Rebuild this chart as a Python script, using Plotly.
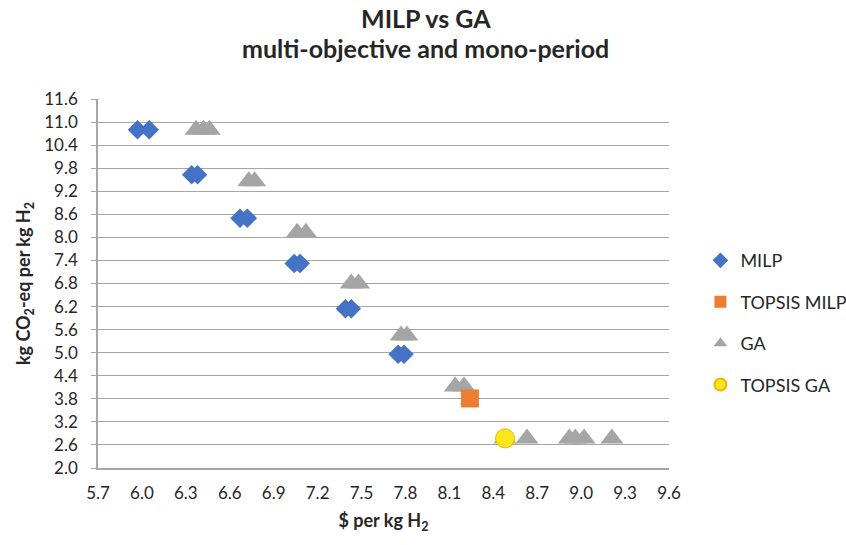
import plotly.graph_objects as go

# Data
milp_x = [5.97, 6.05, 6.34, 6.38, 6.67, 6.72, 7.04, 7.08, 7.39, 7.43, 7.75, 7.79]
milp_y = [10.80, 10.80, 9.63, 9.63, 8.50, 8.50, 7.32, 7.32, 6.14, 6.14, 4.96, 4.96]

topsis_milp_x = [8.24]
topsis_milp_y = [3.81]

ga_x = [6.37, 6.42, 6.46, 6.73, 6.77, 7.06, 7.12, 7.43, 7.48, 7.77, 7.81,
        8.14, 8.20, 8.48, 8.63, 8.92, 8.96, 9.02, 9.21]
ga_y = [10.80, 10.80, 10.80, 9.46, 9.46, 8.12, 8.12, 6.80, 6.80, 5.45, 5.45,
        4.12, 4.12, 2.77, 2.77, 2.77, 2.77, 2.77, 2.77]

topsis_ga_x = [8.48]
topsis_ga_y = [2.77]

x_ticks = [5.7, 6.0, 6.3, 6.6, 6.9, 7.2, 7.5, 7.8, 8.1, 8.4, 8.7, 9.0, 9.3, 9.6]
y_ticks = [2.0, 2.6, 3.2, 3.8, 4.4, 5.0, 5.6, 6.2, 6.8, 7.4, 8.0, 8.6, 9.2, 9.8, 10.4, 11.0, 11.6]

title_lines = ["MILP vs GA", "multi-objective and mono-period"]

FONT = "Lato, 'Open Sans', sans-serif"
TXT = "#262626"
GRID = "#A6A6A6"

fig = go.Figure()
fig.add_trace(go.Scatter(
    x=ga_x, y=ga_y, mode="markers", name="GA", legendrank=3, legendgroup="c",
    marker=dict(symbol="triangle-up", size=20, color="#A5A5A5", line=dict(width=0))))
fig.add_trace(go.Scatter(
    x=milp_x, y=milp_y, mode="markers", name="MILP", legendrank=1, legendgroup="a",
    marker=dict(symbol="diamond", size=15, color="#4472C4", line=dict(width=0))))
fig.add_trace(go.Scatter(
    x=topsis_milp_x, y=topsis_milp_y, mode="markers", name="TOPSIS MILP", legendrank=2,
    legendgroup="b",
    marker=dict(symbol="square", size=18, color="#ED7D31", line=dict(width=0))))
fig.add_trace(go.Scatter(
    x=topsis_ga_x, y=topsis_ga_y, mode="markers", name="TOPSIS GA", legendrank=4,
    legendgroup="d",
    marker=dict(symbol="circle", size=19, color="#F8E71C", line=dict(width=1, color="#F5B400"))))

# Two-line title as annotations (positions in plot-area fractions)
plot_l, plot_r, plot_t, plot_b = 98, 669, 99, 468
def px_to_paper_x(px):
    return (px - plot_l) / (plot_r - plot_l)
def px_to_paper_y(py):
    return (plot_b - py) / (plot_b - plot_t)

for line, ypx in zip(title_lines, [18, 48]):
    fig.add_annotation(
        text=f"<b>{line}</b>", x=px_to_paper_x(426), y=px_to_paper_y(ypx),
        xref="paper", yref="paper", xanchor="center", yanchor="middle",
        showarrow=False, font=dict(family=FONT, size=25, color=TXT))

fig.update_layout(
    width=846, height=545,
    paper_bgcolor="white", plot_bgcolor="white",
    margin=dict(l=plot_l, r=846 - plot_r, t=plot_t, b=545 - plot_b, autoexpand=False),
    font=dict(family=FONT, size=17, color=TXT),
    showlegend=True,
    legend=dict(
        x=1.055, xanchor="left", y=0.612, yanchor="top",
        font=dict(family=FONT, size=18, color=TXT),
        itemsizing="constant", tracegroupgap=15,
        bgcolor="rgba(0,0,0,0)"),
    xaxis=dict(
        range=[5.7, 9.6], tickvals=x_ticks, ticktext=[f"{v:.1f}" for v in x_ticks],
        showgrid=False, zeroline=False,
        showline=True, linecolor=GRID, linewidth=1.5,
        ticks="", ticklabelstandoff=9, tickfont=dict(family=FONT, size=17, color=TXT),
        title=dict(text="<b>$ per kg H<sub>2</sub></b>", standoff=12,
                   font=dict(family=FONT, size=18, color=TXT))),
    yaxis=dict(
        range=[2.0, 11.6], tickvals=y_ticks, ticktext=[f"{v:.1f}" for v in y_ticks],
        showgrid=True, gridcolor=GRID, gridwidth=1.2, zeroline=False,
        showline=True, linecolor=GRID, linewidth=1.5,
        ticks="outside", ticklen=5, tickcolor=GRID, tickwidth=1.2,
        ticklabelstandoff=10,
        tickfont=dict(family=FONT, size=17, color=TXT),
        title=dict(text="<b>kg CO<sub>2</sub>-eq per kg H<sub>2</sub></b>", standoff=9,
                   font=dict(family=FONT, size=18, color=TXT))),
)

fig.write_html("out.html", config={"displayModeBar": False},
               post_script="document.body.style.margin='0';")
